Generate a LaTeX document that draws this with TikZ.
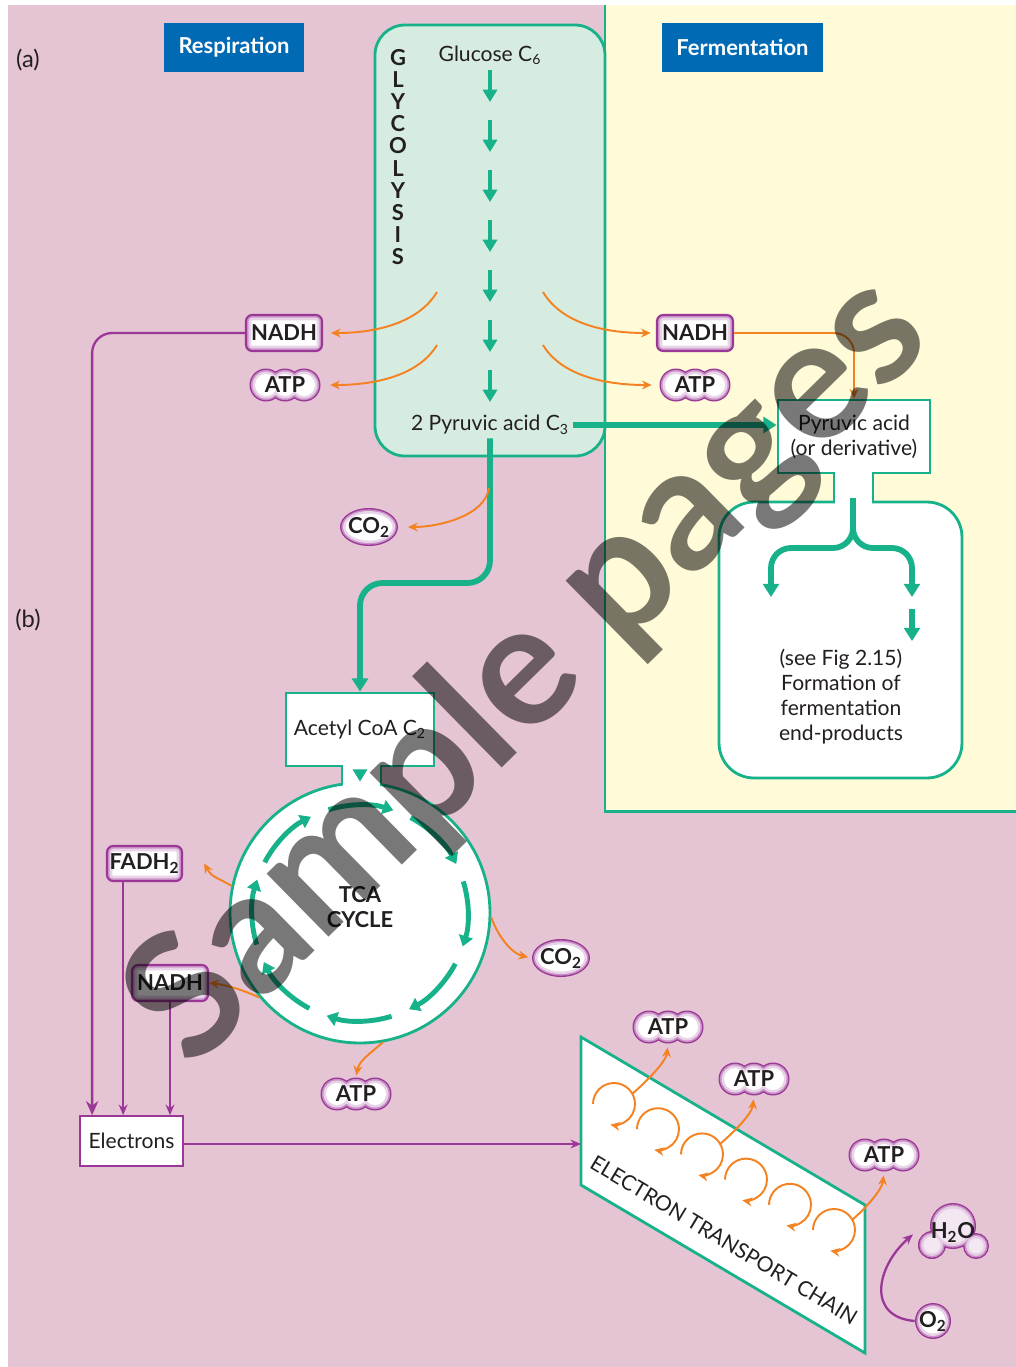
\documentclass[tikz,border=0pt]{standalone}
\usepackage{fontspec}
\setmainfont{Lato}
\usepackage{tikz}
\usetikzlibrary{arrows.meta, positioning, calc}

\definecolor{pinkbg}{RGB}{229,196,212}
\definecolor{yellowbg}{RGB}{255,250,215}
\definecolor{glycofill}{RGB}{214,236,225}
\definecolor{cyclegreen}{RGB}{24,178,138}
\definecolor{headblue}{RGB}{0,106,180}
\definecolor{energyorange}{RGB}{245,130,32}
\definecolor{carrierpurple}{RGB}{155,55,150}
\definecolor{inkgray}{RGB}{35,31,32}

% glowing bubble molecules: name, centre
\newcommand{\atpmol}[2]{%
  \foreach \tint/\cut in {carrierpurple/0,carrierpurple!55/1.4,carrierpurple!22/3,white/5.5}
    \foreach \dx in {-19,0,19}
      \fill[fill=\tint] ($(#2)+(\dx,0)$) circle [radius={16.5-\cut}];
  \node[molecule, minimum width=1.44cm, minimum height=0.66cm] (#1) at (#2) {ATP};
}
\newcommand{\cotwomol}[2]{%
  \foreach \tint/\cut in {carrierpurple/0,carrierpurple!55/1.4,carrierpurple!22/3,white/5.5}
    \fill[fill=\tint] (#2) ellipse [x radius={29-\cut}, y radius={19-\cut}];
  \node[molecule, minimum width=1.16cm, minimum height=0.76cm] (#1) at (#2) {CO\textsubscript{2}};
}

\begin{document}
\begin{tikzpicture}[x=0.02cm, y=-0.02cm,
    lbl/.style={font=\fontsize{12}{14.2}\selectfont, text=inkgray, align=center, inner sep=2pt},
    header/.style={fill=headblue, text=white, font=\bfseries\fontsize{12.5}{14}\selectfont, minimum height=0.98cm, inner sep=0pt},
    carrier/.style={draw=carrierpurple, line width=1.2pt, fill=white, rounded corners=3.5pt,
        font=\bfseries\fontsize{12.5}{14}\selectfont, text=inkgray, inner sep=0pt,
        minimum width=1.52cm, minimum height=0.72cm,
        path picture={\draw[carrierpurple!22, line width=6pt] (path picture bounding box.south west) rectangle (path picture bounding box.north east);
                      \draw[carrierpurple!50, line width=3pt] (path picture bounding box.south west) rectangle (path picture bounding box.north east);}},
    molecule/.style={font=\bfseries\fontsize{12.5}{14}\selectfont, text=inkgray, inner sep=0pt},
    stepbox/.style={draw=cyclegreen, line width=1.6pt, fill=white, font=\fontsize{12}{14.2}\selectfont, text=inkgray, align=center, inner sep=0pt},
    greenarrow/.style={draw=cyclegreen, line width=2.6pt, -{Triangle[length=7pt, width=8pt]}},
    greenpath/.style={draw=cyclegreen, line width=3.3pt, -{Triangle[length=7.5pt, width=9pt]}},
    cyclearrow/.style={draw=cyclegreen, line width=2.8pt, -{Triangle[length=6pt, width=8pt]}},
    energy/.style={draw=energyorange, line width=1.1pt, -{Stealth[length=5.5pt, width=5pt]}},
    carrierline/.style={draw=carrierpurple, line width=1.3pt, -{Stealth[length=6pt, width=5pt]}},
]
\useasboundingbox (0,0) rectangle (1016,1367);
\fill[pinkbg] (8,5) rectangle (1016,1367);
\fill[yellowbg] (605,5) rectangle (1016,811);

% (a) glycolysis and fermentation
\node[header, minimum width=2.8cm] (resp) at (234,47.5) {Respiration};
\node[header, minimum width=3.22cm] (ferm) at (742.5,47.5) {Fermentation};
\node[lbl, font=\fontsize{13.5}{15}\selectfont] (parta) at (28,60) {(a)};
\node[lbl, font=\fontsize{13.5}{15}\selectfont] (partb) at (28,620) {(b)};

\draw[cyclegreen, line width=1.6pt, fill=glycofill, rounded corners=0.6cm] (375,25) rectangle (605,456);
\draw[cyclegreen, line width=1.7pt] (605,5) -- (605,811) -- (1016,811);
\node[lbl, font=\bfseries\fontsize{12.5}{12.6}\selectfont] (glyword) at (398,157) {G\\L\\Y\\C\\O\\L\\Y\\S\\I\\S};
\node[lbl] (glucose) at (490,55) {Glucose C\textsubscript{6}};
\foreach \y in {70,120,...,370}
  \draw[greenarrow] (490,\y) -- ++(0,32);
\node[lbl] (pyr) at (490,425) {2 Pyruvic acid C\textsubscript{3}};

\node[stepbox, minimum width=3.04cm, minimum height=1.46cm] (pyrF) at (854,436.5) {Pyruvic acid\\(or derivative)};
\node[stepbox, rounded corners=0.7cm, minimum width=4.86cm, minimum height=5.52cm] (endbox) at (840.5,640) {};
\fill[white] (835,470) rectangle (872,505);
\draw[cyclegreen, line width=1.6pt] (834,473) -- (834,502) (873,473) -- (873,502);
\coordinate (fsplit) at (853,498);
\coordinate (fleft) at (771,597);
\coordinate (fright) at (912,597);
\draw[greenpath, rounded corners=0.4cm] (fsplit) -- ++(0,50) -| (fleft);
\draw[greenpath, rounded corners=0.4cm] (fsplit) -- ++(0,50) -| (fright);
\draw[greenpath] ($(fright)+(0,12)$) -- ++(0,32);
\node[lbl] (endtext) at (841,697) {(see Fig 2.15)\\Formation of\\fermentation\\end-products};

\draw[greenpath, line width=3.6pt] (pyr.east) -- (pyr.east -| pyrF.west);

\node[carrier] (nadhA) at (284,333) {NADH};
\node[carrier] (nadhF) at (695,333) {NADH};
\atpmol{atpA}{285,385}
\atpmol{atpF}{695,385}

\coordinate (gl1) at (437,292);
\coordinate (gl2) at (437,345);
\coordinate (gr1) at (543,292);
\coordinate (gr2) at (543,345);
\draw[energy, shorten >=4.5pt] (gl1) .. controls +(-18,30) and +(55,0) .. (nadhA.east);
\draw[energy, shorten >=5pt] (gl2) .. controls +(-18,30) and +(55,0) .. (atpA.east);
\draw[energy, shorten >=3pt] (gr1) .. controls +(18,30) and +(-55,0) .. (nadhF.west);
\draw[energy, shorten >=4pt] (gr2) .. controls +(18,30) and +(-55,0) .. (atpF.west);
\draw[energy, rounded corners=0.4cm] (nadhF.east) -| (pyrF.north);

% (b) respiration
\node[stepbox, minimum width=2.96cm, minimum height=1.46cm] (acetyl) at (360,729.5) {Acetyl CoA C\textsubscript{2}};
\node[stepbox, circle, minimum size=5.2cm] (tca) at (360,913) {};
\node[lbl, font=\bfseries\fontsize{12.5}{14.2}\selectfont] (tcalabel) at (360,907) {TCA\\CYCLE};
\fill[white] (343,763) rectangle (380,790);
\draw[cyclegreen, line width=1.6pt] (342,766) -- (342,785) (381,766) -- (381,785);
\draw[greenarrow, shorten <=4pt] (acetyl.south) -- (tca.north);
\foreach \a in {-107,-62,-17,28,73,118,163,208}
  \draw[cyclearrow] ([shift={(\a:108)}]tca.center) arc[start angle=\a, end angle=\a+35, radius=108];

\coordinate (acbend) at (360,583);
\draw[greenpath, rounded corners=0.45cm] (pyr.south) |- (acbend) -- (acetyl.north);

\cotwomol{co2a}{369,527}
\coordinate (pyrdrop) at (489,488);
\draw[energy, shorten >=5.5pt] (pyrdrop) .. controls +(-4,28) and +(40,0) .. (co2a.east);

\node[carrier, minimum width=1.5cm, minimum height=0.7cm] (fadh) at (144.5,863.5) {FADH\textsubscript{2}};
\node[carrier] (nadhB) at (170,983) {NADH};
\cotwomol{co2b}{561,958}
\atpmol{atpB}{356,1094}
\coordinate (fadhin) at ($(fadh.east)+(21,0)$);
\draw[energy] (tca.168) .. controls +(-14,-8) and +(8,14) .. (fadhin);
\draw[energy] (tca.220) .. controls +(-18,-8) and +(18,2) .. (nadhB.east);
\draw[energy, shorten >=2pt] (tca.-2) .. controls +(8,22) and +(-18,-4) .. (co2b.west);
\draw[energy, shorten >=1pt] (tca.-80) .. controls +(-14,12) and +(3,-16) .. (atpB.north);

\node[draw=carrierpurple, line width=1pt, fill=white, lbl, minimum width=2.06cm, minimum height=1cm] (elec) at (131.5,1141) {Electrons};
\coordinate (e1) at ($(elec.north west)+(13,0)$);
\coordinate (e2) at ($(elec.north west)+(44,0)$);
\coordinate (e3) at (nadhB.south |- elec.north);
\draw[carrierline, -{Stealth[length=8pt, width=7pt]}, rounded corners=0.4cm] (nadhA.west) -| (e1);
\draw[carrierline] (fadh.south -| e2) -- (e2);
\draw[carrierline] (nadhB.south) -- (e3);

% electron transport chain
\draw[cyclegreen, line width=1.6pt, fill=white] (581,1037) -- (865,1205) -- (865,1353) -- (581,1185) -- cycle;
\node[lbl, rotate=-31] (etclabel) at (724,1240) {ELECTRON TRANSPORT CHAIN};
\coordinate (etcin) at (581,1144);
\draw[carrierline] (elec.east |- etcin) -- (etcin);
\foreach \i in {0,...,5}
  \draw[energy] ({593+44*\i},{1104+25.2*\i}) arc[start angle=180, end angle=460, radius=21];
\atpmol{atp1}{668,1027}
\atpmol{atp2}{754,1079}
\atpmol{atp3}{884,1155}
\coordinate (lp1) at (632,1094);
\coordinate (lp3) at (720,1144);
\coordinate (lp6) at (852,1220);
\draw[energy, shorten >=2pt] (lp1) .. controls +(14,-12) and +(-2,18) .. (atp1.south);
\draw[energy, shorten >=2pt] (lp3) .. controls +(14,-12) and +(-2,18) .. (atp2.south);
\draw[energy, shorten >=2pt] (lp6) .. controls +(14,-12) and +(-2,18) .. (atp3.south);

\foreach \tint/\cut in {carrierpurple/0,carrierpurple!55/1.4,carrierpurple!22/3,white/5.5}
  \fill[fill=\tint] (933,1321) circle [radius={18-\cut}];
\node[molecule, minimum size=0.72cm] (o2) at (933,1321) {O\textsubscript{2}};
\foreach \tint/\cut in {carrierpurple/0,carrierpurple!55/1.4,carrierpurple!25/3,carrierpurple!12/5.5}
  \fill[fill=\tint] (953,1226) circle [radius={23-\cut}] (932,1245) circle [radius={14-\cut}] (976,1246) circle [radius={13-\cut}];
\node[molecule, minimum width=1.48cm, minimum height=1cm] (h2o) at (953,1232) {H\textsubscript{2}O};
\draw[carrierline, shorten >=2pt] (o2.west) .. controls +(-48,-4) and +(-40,35) .. (h2o.west);

\node[rotate=44.5, font=\bfseries\fontsize{98}{98}\selectfont, text=black, opacity=0.53] (stamp) at (530,672) {Sample pages};
\end{tikzpicture}
\end{document}
